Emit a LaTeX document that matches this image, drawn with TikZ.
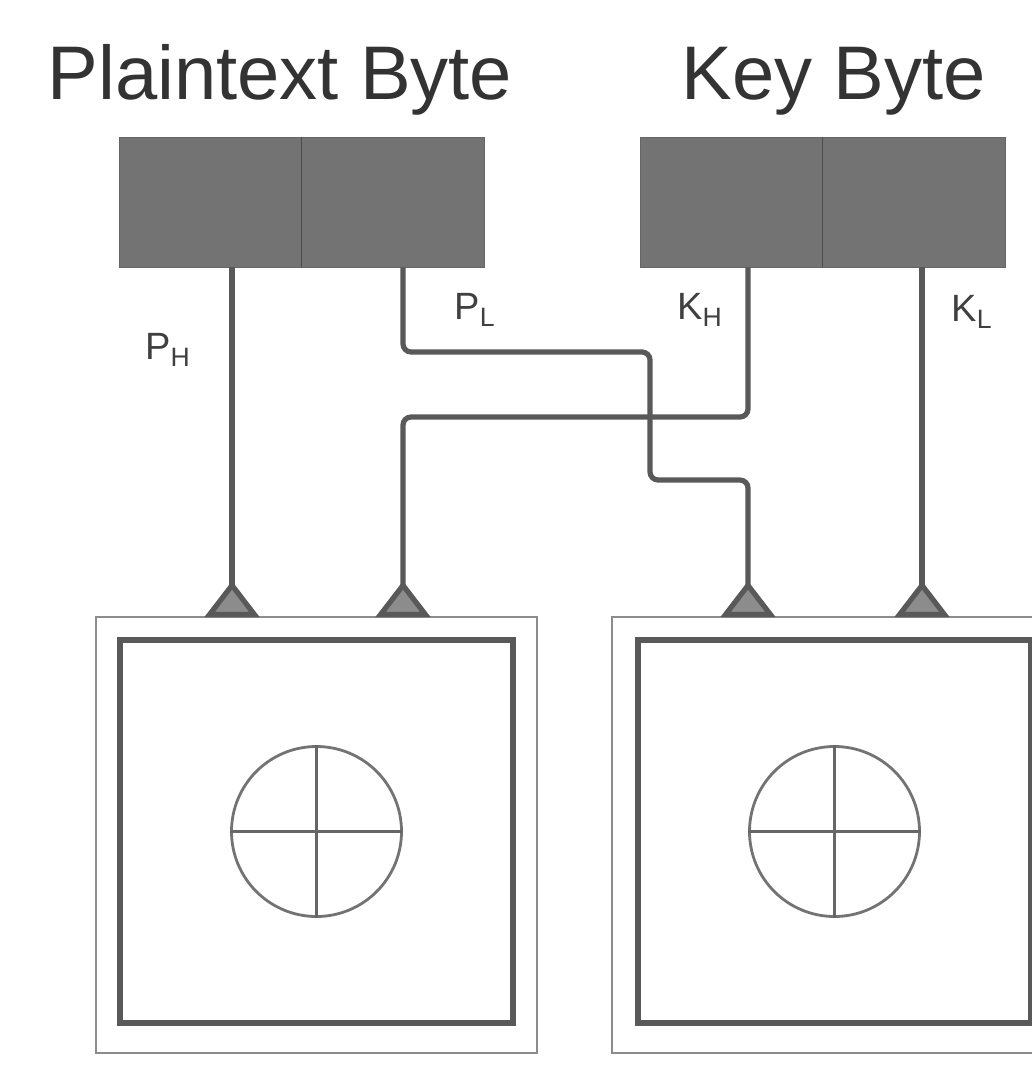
\documentclass[tikz,border=0pt]{standalone}
\usepackage{fontspec}
\setmainfont{Liberation Sans}
\usetikzlibrary{arrows.meta}

\begin{document}
\begin{tikzpicture}[
    x=0.5pt, y=-0.5pt,
    hdr/.style={anchor=base, inner sep=0pt, text=black!80, font=\fontsize{38}{44}\selectfont},
    lbl/.style={inner sep=0pt, text=black!75, font=\fontsize{19}{22}\selectfont},
    byte/.style={draw=black!60, fill=black!55, minimum width=182.5pt, minimum height=65pt, inner sep=0pt},
    outer/.style={draw=black!45, line width=1.2pt, minimum width=220.5pt, minimum height=218pt, inner sep=0pt},
    inner/.style={draw=black!65, line width=2.6pt, minimum width=196.5pt, minimum height=191.5pt, inner sep=0pt},
    xorc/.style={circle, draw=black!55, line width=1.4pt, minimum size=85pt, inner sep=0pt},
    conn/.style={draw=black!65, line width=2.6pt, rounded corners=4pt,
        -{Triangle[reversed, length=18pt, width=27pt, fill=black!45]}}
]
    \useasboundingbox (0,0) rectangle (1032,1075);

    % Names
    \node[hdr] (ptitle) at (280,100) {Plaintext Byte};
    \node[hdr] (ktitle) at (834,100) {Key Byte};

    % Byte blocks
    \node[byte] (pbyte) at (301.5,202) {};
    \node[byte] (kbyte) at (822.5,202) {};
    \draw[black!70, line width=0.8pt] (pbyte.north) -- (pbyte.south);
    \draw[black!70, line width=0.8pt] (kbyte.north) -- (kbyte.south);

    % XOR units
    \node[outer] (xo1) at (316.5,835) {};
    \node[inner] (xi1) at (316.5,831.5) {};
    \node[xorc] (xc1) at (xi1) {};
    \node[outer] (xo2) at (832.5,835) {};
    \node[inner] (xi2) at (834.5,831.5) {};
    \node[xorc] (xc2) at (xi2) {};
    \draw[black!60, line width=1.4pt] (xc1.north) -- (xc1.south) (xc1.west) -- (xc1.east);
    \draw[black!60, line width=1.4pt] (xc2.north) -- (xc2.south) (xc2.west) -- (xc2.east);

    % Inputs
    \coordinate (in1a) at (232,617);
    \coordinate (in1b) at (403,617);
    \coordinate (in2a) at (748,617);
    \coordinate (in2b) at (922,617);

    \draw[conn] (pbyte.south -| in1a) -- (in1a);
    \draw[conn] (pbyte.south -| in1b) |- (650,352) |- (in2a |- 0,480) -- (in2a);
    \draw[conn] (kbyte.south -| in2a) |- (in1b |- 0,417) -- (in1b);
    \draw[conn] (kbyte.south -| in2b) -- (in2b);

    \node[lbl] (ph) at (168,350) {P\textsubscript{H}};
    \node[lbl] (pl) at (475,310) {P\textsubscript{L}};
    \node[lbl] (kh) at (700,310) {K\textsubscript{H}};
    \node[lbl] (kl) at (972,312) {K\textsubscript{L}};
\end{tikzpicture}
\end{document}
